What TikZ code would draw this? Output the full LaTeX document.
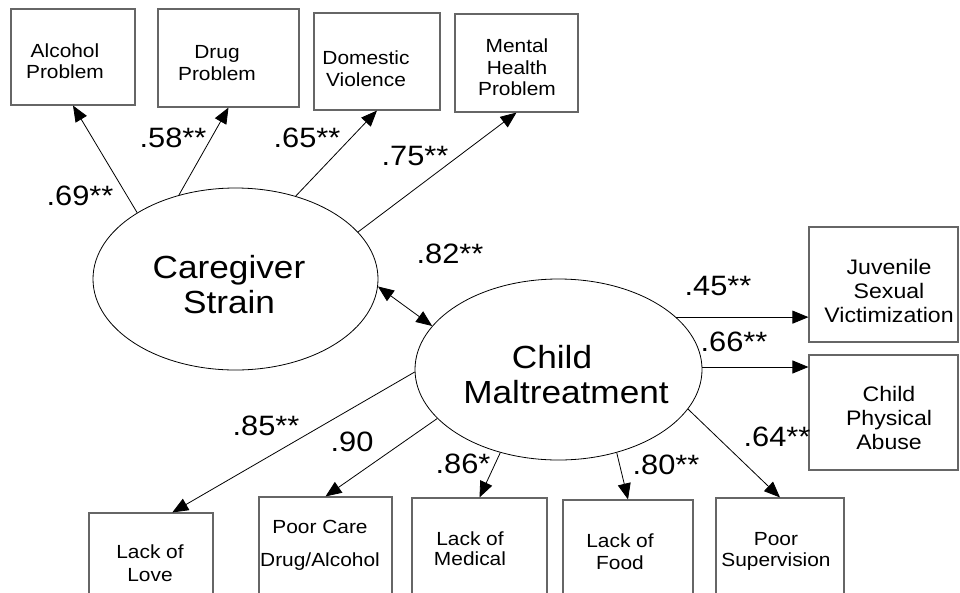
\documentclass[tikz,border=0pt]{standalone}
\usepackage{fontspec}
\setmainfont[FakeStretch=1.1]{Liberation Sans}
\usetikzlibrary{arrows.meta,shapes.geometric,calc}

\begin{document}
\begin{tikzpicture}[x=1pt,y=-1pt,
  obsbox/.style={draw=black!60, line width=1.1pt, rectangle, inner sep=0pt},
  latent/.style={draw=black, ellipse, line width=0.8pt, inner sep=0pt},
  boxtext/.style={align=center, inner sep=0pt, text depth=0pt,
    font=\fontsize{19}{21.5}\selectfont},
  sidetext/.style={boxtext, font=\fontsize{21}{24}\selectfont},
  bigtext/.style={align=center, inner sep=0pt, text depth=0pt,
    font=\fontsize{32}{35}\selectfont},
  coef/.style={inner sep=0pt, text height=20pt, text depth=0pt,
    font=\fontsize{28}{30}\selectfont},
  link/.style={-{Triangle[length=16pt,width=13pt]}, line width=0.8pt},
  covlink/.style={{Triangle[length=16pt,width=13pt]}-{Triangle[length=16pt,width=13pt]}, line width=0.8pt}
]
\useasboundingbox (0,0) rectangle (960,592);
\clip (0,0) rectangle (960,592);

% caregiver indicators
\node[obsbox, minimum width=124pt, minimum height=96pt] (alc) at (73,57) {};
\node[boxtext] (alc-t) at (65,61) {Alcohol\\Problem};
\node[obsbox, minimum width=141pt, minimum height=98pt] (drug) at (228.5,58) {};
\node[boxtext] (drug-t) at (217,63) {Drug\\Problem};
\node[obsbox, minimum width=126pt, minimum height=97pt] (dom) at (377,61.5) {};
\node[boxtext] (dom-t) at (366,68.5) {Domestic\\Violence};
\node[obsbox, minimum width=123pt, minimum height=98pt] (ment) at (516.5,63) {};
\node[boxtext] (ment-t) at (517,67.5) {Mental\\Health\\Problem};

% victimization outcomes
\node[obsbox, minimum width=149pt, minimum height=115pt] (juv) at (883.5,284.5) {};
\node[sidetext] (juv-t) at (889,291) {Juvenile\\Sexual\\Victimization};
\node[obsbox, minimum width=149pt, minimum height=115pt] (cpa) at (883.5,412.5) {};
\node[sidetext] (cpa-t) at (889,417.5) {Child\\Physical\\Abuse};

% maltreatment indicators
\node[obsbox, minimum width=124pt, minimum height=120pt] (love) at (151,573) {};
\node[boxtext, font=\fontsize{19}{23}\selectfont] (love-t) at (150,563.5) {Lack of\\Love};
\node[obsbox, minimum width=133pt, minimum height=120pt] (care) at (325.5,557) {};
\node[boxtext, font=\fontsize{19}{33}\selectfont] (care-t) at (320,543.5) {Poor Care\\Drug/Alcohol};
\node[obsbox, minimum width=135pt, minimum height=120pt] (med) at (479.5,558) {};
\node[boxtext, font=\fontsize{19}{20}\selectfont] (med-t) at (470,549) {Lack of\\Medical};
\node[obsbox, minimum width=130pt, minimum height=120pt] (food) at (628,560) {};
\node[boxtext, font=\fontsize{19}{22}\selectfont] (food-t) at (620,552) {Lack of\\Food};
\node[obsbox, minimum width=128pt, minimum height=120pt] (sup) at (780,558) {};
\node[boxtext, font=\fontsize{19}{21}\selectfont] (sup-t) at (776,549.5) {Poor\\Supervision};

% latent factors
\node[latent, minimum width=285pt, minimum height=182pt] (cs) at (235.5,279) {};
\node[bigtext] (cs-t) at (229,284) {Caregiver\\Strain};
\node[latent, minimum width=287pt, minimum height=181pt] (cm) at (558.5,369.5) {};
\node[bigtext] (cm-t) at (566,374) {\hspace*{-28pt}Child\\Maltreatment};

% loadings
\draw[link] (cs.146.2) -- (alc.south);
\draw[link] (cs.124.7) -- (drug.south);
\draw[link] (cs.54.8) -- (dom.south);
\draw[link] (cs.21.4) -- (ment.south);
\draw[covlink] (cs.357.6) -- (cm.161.8);
\draw[link] (cm.24.7) -- (cm.24.7 -| juv.west);
\draw[link] (cm.1.4) -- (cm.1.4 -| cpa.west);
\draw[link] (cm.181.4) -- ($(love.north west)!0.67!(love.north east)$);
\draw[link] (cm.202.7) -- (care.north);
\draw[link] (cm.235.9) -- (med.north);
\draw[link] (cm.305) -- (food.north);
\draw[link] (cm.343.7) -- (sup.north);

% coefficients
\node[coef] (c-alc) at (80,195) {.69**};
\node[coef] (c-drug) at (173,137) {.58**};
\node[coef] (c-dom) at (307,137) {.65**};
\node[coef] (c-ment) at (415,155) {.75**};
\node[coef] (c-cov) at (450,253) {.82**};
\node[coef] (c-juv) at (718,285) {.45**};
\node[coef] (c-cpa) at (734,341) {.66**};
\node[coef] (c-sup) at (777,436) {.64**};
\node[coef] (c-love) at (266,425) {.85**};
\node[coef] (c-care) at (352,441) {.90};
\node[coef] (c-med) at (463,463) {.86*};
\node[coef] (c-food) at (666,464) {.80**};
\end{tikzpicture}
\end{document}
